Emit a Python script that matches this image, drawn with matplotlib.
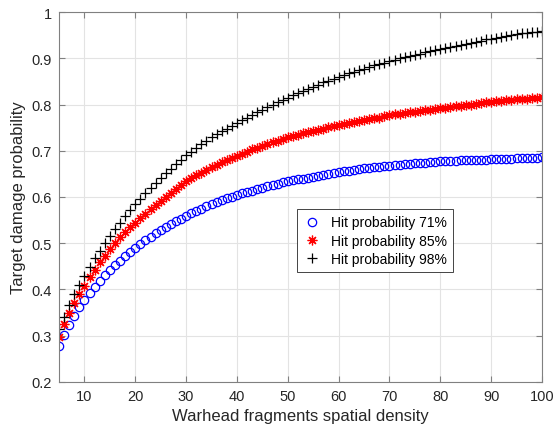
import numpy as np
import matplotlib
matplotlib.use("Agg")
import matplotlib.pyplot as plt

plt.rcParams['font.family'] = ['Liberation Sans', 'DejaVu Sans']

# Spatial density of warhead fragments (x axis)
density = list(range(5, 101))

# Target damage probability, one value per density step
hit_71 = [0.278, 0.302, 0.323, 0.343, 0.361, 0.377, 0.392, 0.406, 0.419, 0.431,
          0.442, 0.453, 0.462, 0.472, 0.481, 0.490,
          0.498, 0.506, 0.514, 0.521, 0.528, 0.535, 0.541, 0.547, 0.553, 0.559,
          0.565, 0.570, 0.575, 0.580, 0.585, 0.589, 0.593, 0.597, 0.601, 0.605,
          0.608, 0.611, 0.614, 0.617, 0.620, 0.623, 0.626, 0.629, 0.632, 0.634,
          0.636, 0.638, 0.640, 0.642, 0.644, 0.646, 0.648, 0.650, 0.652, 0.654,
          0.656, 0.657, 0.659, 0.660, 0.662, 0.663, 0.664, 0.665, 0.667, 0.668,
          0.669, 0.670, 0.671, 0.672, 0.673, 0.674, 0.674, 0.675, 0.676, 0.677,
          0.677, 0.678, 0.678, 0.679, 0.679, 0.680, 0.680, 0.681, 0.681, 0.682,
          0.682, 0.683, 0.683, 0.683, 0.684, 0.684, 0.685, 0.685, 0.685, 0.686]

hit_85 = [0.297, 0.325, 0.349, 0.371, 0.390, 0.408, 0.426, 0.443, 0.459, 0.473,
          0.488, 0.500, 0.513, 0.524, 0.534, 0.544,
          0.554, 0.564, 0.573, 0.582, 0.591, 0.600, 0.609, 0.618, 0.626, 0.634,
          0.641, 0.647, 0.653, 0.659, 0.665, 0.670, 0.675, 0.680, 0.685, 0.689,
          0.694, 0.698, 0.703, 0.707, 0.711, 0.715, 0.719, 0.722, 0.726, 0.729,
          0.732, 0.735, 0.738, 0.741, 0.743, 0.746, 0.748, 0.751, 0.753, 0.755,
          0.757, 0.760, 0.762, 0.764, 0.766, 0.768, 0.770, 0.772, 0.775, 0.777,
          0.779, 0.780, 0.782, 0.783, 0.785, 0.786, 0.788, 0.789, 0.791, 0.792,
          0.793, 0.795, 0.796, 0.798, 0.799, 0.800, 0.802, 0.803, 0.805, 0.806,
          0.807, 0.808, 0.809, 0.810, 0.811, 0.812, 0.813, 0.814, 0.815, 0.816]

hit_98 = [0.314, 0.341, 0.366, 0.389, 0.410, 0.430, 0.449, 0.467, 0.484, 0.500,
          0.515, 0.530, 0.544, 0.558, 0.571, 0.584,
          0.596, 0.608, 0.619, 0.630, 0.641, 0.651, 0.661, 0.671, 0.681, 0.690,
          0.698, 0.706, 0.714, 0.722, 0.729, 0.736, 0.742, 0.748, 0.754, 0.760,
          0.766, 0.772, 0.778, 0.783, 0.789, 0.794, 0.800, 0.805, 0.810, 0.815,
          0.820, 0.825, 0.830, 0.834, 0.839, 0.843, 0.848, 0.852, 0.856, 0.860,
          0.864, 0.868, 0.871, 0.875, 0.878, 0.882, 0.885, 0.888, 0.891, 0.894,
          0.897, 0.900, 0.903, 0.905, 0.908, 0.910, 0.913, 0.915, 0.918, 0.920,
          0.922, 0.925, 0.927, 0.929, 0.932, 0.934, 0.936, 0.938, 0.941, 0.943,
          0.945, 0.947, 0.949, 0.950, 0.952, 0.954, 0.955, 0.957, 0.958, 0.960]

labels = ["Hit probability 71%", "Hit probability 85%", "Hit probability 98%"]

fig = plt.figure(figsize=(5.57, 4.39), dpi=100)
ax = fig.add_axes([0.106, 0.128, 0.867, 0.842])

ax.plot(density, hit_71, linestyle="none", marker="o", markersize=6,
        markerfacecolor="none", markeredgecolor="#0000ff", markeredgewidth=0.9, label=labels[0])
# MATLAB style asterisk: 8 arms
ax.plot(density, hit_85, linestyle="none", marker=(8, 2, 0), markersize=7,
        color="#ff0000", markeredgewidth=0.9, label=labels[1])
ax.plot(density, hit_98, linestyle="none", marker="+", markersize=7.5,
        color="black", markeredgewidth=0.9, label=labels[2])

ax.set_xlim(5, 100)
ax.set_ylim(0.2, 1)
ax.set_xticks(range(10, 101, 10))
ax.set_yticks(np.arange(0.2, 1.01, 0.1))
ax.set_yticklabels(["0.2", "0.3", "0.4", "0.5", "0.6", "0.7", "0.8", "0.9", "1"])

ax.grid(True, color="#e3e3e3", linewidth=0.8)
ax.set_axisbelow(True)
for s in ax.spines.values():
    s.set_color("#808080")
    s.set_linewidth(0.8)
ax.tick_params(direction="in", top=True, right=True, length=4, color="#808080",
               labelsize=10.5, labelcolor="#262626", pad=5)

ax.set_xlabel("Warhead fragments spatial density", fontsize=12, color="#262626")
ax.set_ylabel("Target damage probability", fontsize=12, color="#262626")

leg = ax.legend(loc="lower left", bbox_to_anchor=(0.493, 0.297), borderaxespad=0,
                fontsize=10, fancybox=False, framealpha=1, edgecolor="#262626",
                handlelength=1.2, handletextpad=0.8, borderpad=0.45, labelspacing=0.3)
leg.get_frame().set_linewidth(0.6)

fig.savefig("out.png", dpi=100)
